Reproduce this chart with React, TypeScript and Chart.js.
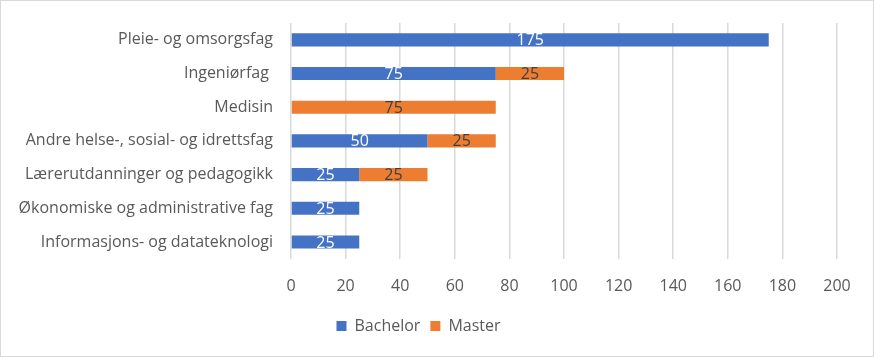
import React, { useEffect, useRef } from "react";
import { Chart, registerables } from "chart.js";

Chart.register(...registerables);

const categories = [
  "Pleie- og omsorgsfag",
  "Ingeniørfag ",
  "Medisin",
  "Andre helse-, sosial- og idrettsfag",
  "Lærerutdanninger og pedagogikk",
  "Økonomiske og administrative fag",
  "Informasjons- og datateknologi",
];
const bachelor: (number | null)[] = [175, 75, null, 50, 25, 25, 25];
const master: (number | null)[] = [null, 25, 75, 25, 25, null, null];
const xTicks = [0, 20, 40, 60, 80, 100, 120, 140, 160, 180, 200];

const FONT = "'Open Sans', Lato, sans-serif";
const FS = 16;

const borderPlugin = {
  id: "outerBorder",
  afterDraw(chart: any) {
    const ctx = chart.ctx;
    ctx.save();
    ctx.strokeStyle = "#D9D9D9";
    ctx.lineWidth = 1;
    ctx.strokeRect(0.5, 0.5, chart.width - 1, chart.height - 1);
    ctx.restore();
  },
};

const labelPlugin = {
  id: "barLabels",
  afterDatasetsDraw(chart: any) {
    const ctx = chart.ctx;
    ctx.save();
    ctx.font = `${FS}px ${FONT}`;
    ctx.textAlign = "center";
    ctx.textBaseline = "middle";
    chart.data.datasets.forEach((ds: any, di: number) => {
      const meta = chart.getDatasetMeta(di);
      meta.data.forEach((el: any, i: number) => {
        const v = ds.data[i];
        if (v == null || v === 0) return;
        ctx.fillStyle = di === 0 ? "#FFFFFF" : "#404040";
        ctx.fillText(String(v), (el.x + el.base) / 2, el.y + 1);
      });
    });
    ctx.restore();
  },
};

export default function App() {
  const ref = useRef<HTMLCanvasElement>(null);
  useEffect(() => {
    document.body.style.margin = "0";
    const chart = new Chart(ref.current!, {
      type: "bar",
      data: {
        labels: categories,
        datasets: [
          { label: "Bachelor", data: bachelor, backgroundColor: "#4472C4", categoryPercentage: 0.39, barPercentage: 1 },
          { label: "Master", data: master, backgroundColor: "#ED7D31", categoryPercentage: 0.39, barPercentage: 1 },
        ],
      },
      options: {
        indexAxis: "y",
        animation: false,
        responsive: false,
        layout: { padding: { left: 0, right: 37, top: 23, bottom: 13 } },
        scales: {
          x: {
            stacked: true,
            min: 0,
            max: 200,
            afterBuildTicks(scale: any) {
              scale.ticks = xTicks.map((v) => ({ value: v }));
            },
            afterFit(scale: any) {
              scale.height = scale.height - 6;
            },
            grid: { color: "#D9D9D9", lineWidth: 1.5, drawTicks: false },
            border: { display: false },
            ticks: { color: "#595959", font: { family: FONT, size: FS }, padding: 18 },
          },
          y: {
            stacked: true,
            grid: { display: false, drawTicks: false },
            border: { display: false },
            afterFit(scale: any) {
              scale.width = 291;
              scale.paddingTop = 0;
              scale.paddingBottom = 0;
            },
            ticks: { color: "#595959", font: { family: FONT, size: FS }, padding: 18 },
          },
        },
        plugins: {
          legend: {
            position: "bottom",
            labels: {
              color: "#595959",
              font: { family: FONT, size: FS },
              boxWidth: 10,
              boxHeight: 10,
              padding: 10,
            },
          },
          tooltip: { enabled: false },
        },
      },
      plugins: [labelPlugin, borderPlugin],
    });
    return () => chart.destroy();
  }, []);
  return <canvas ref={ref} width={874} height={357} />;
}
